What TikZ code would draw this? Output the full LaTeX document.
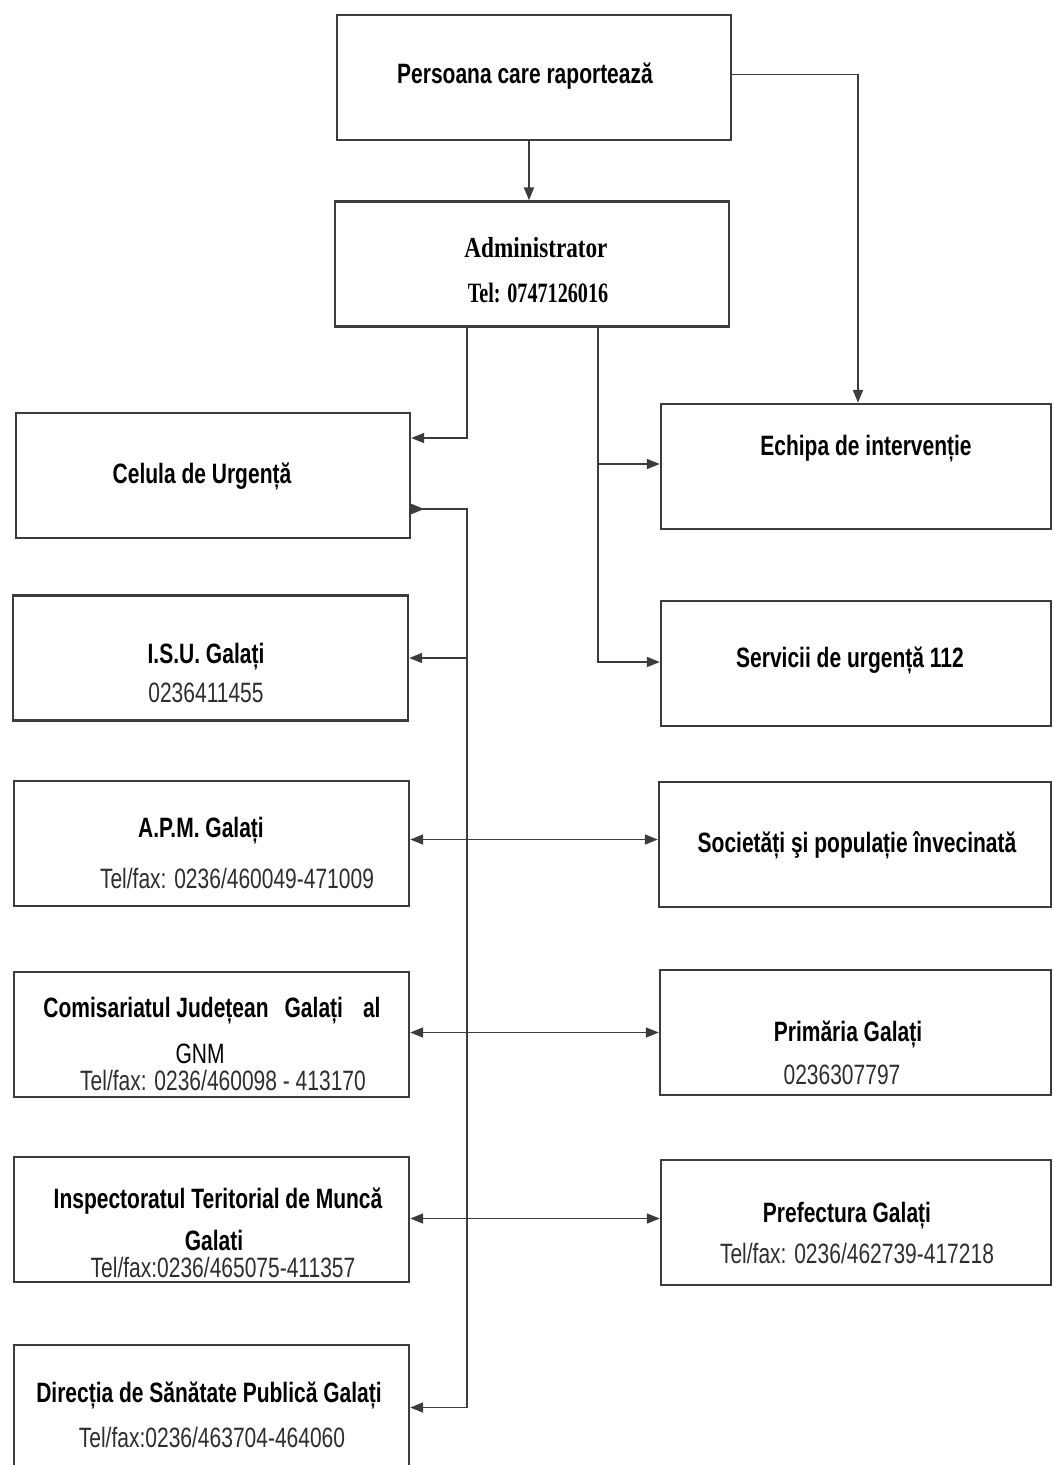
\documentclass[tikz,border=0pt]{standalone}
\usepackage{fontspec}
\usetikzlibrary{arrows.meta,positioning}
\newfontfamily\narrowsf{Liberation Sans}[FakeStretch=0.75]
\newfontfamily\narrowrm{Liberation Serif}[FakeStretch=0.8]
\newfontfamily\narrowrmtel{Liberation Serif}[FakeStretch=0.72]
\definecolor{linegray}{HTML}{3C3C3C}
\definecolor{numgray}{HTML}{2E2E2E}
\tikzset{
	box/.style={draw=linegray,line width=2.4pt,rectangle,minimum width=394pt,minimum height=125pt,inner sep=0pt},
	title/.style={anchor=base,inner sep=0pt,font=\narrowsf\bfseries\fontsize{28}{30}\selectfont},
	phone/.style={anchor=base,inner sep=0pt,text=numgray,font=\narrowsf\fontsize{28}{30}\selectfont},
	admintxt/.style={anchor=base,inner sep=0pt,font=\narrowrm\bfseries\fontsize{29}{31}\selectfont},
	wire/.style={draw=linegray,line width=1.8pt},
	arr/.style={wire,-{Triangle[length=13pt,width=10pt]}},
	dbl/.style={wire,{Triangle[length=13pt,width=10pt]}-{Triangle[length=13pt,width=10pt]}},
	rarr/.style={wire,{Triangle[length=13pt,width=10pt,reversed]}-{Triangle[length=13pt,width=10pt]}}
}
\begin{document}
\begin{tikzpicture}[x=1pt,y=-1pt]
			\path[use as bounding box,clip] (0,0) rectangle (1053,1465);
			\fill[white] (0,0) rectangle (1053,1465);
			% boxes
			\node[box] (pers) at (534,77.5) {};
			\node[box] (admin) at (532,264) {};
			\node[box] (celula) at (213,475.5) {};
			\node[box,minimum width=390pt] (echipa) at (856,466.5) {};
			\node[box,minimum width=395pt] (isu) at (210.5,658) {};
			\node[box,minimum width=390pt] (servicii) at (856,663.5) {};
			\node[box,minimum width=395pt] (apm) at (211.5,843.5) {};
			\node[box,minimum width=392pt] (soc) at (855,844.5) {};
			\node[box,minimum width=395pt] (comis) at (211.5,1034.5) {};
			\node[box,minimum width=391pt] (prim) at (855.5,1032.5) {};
			\node[box,minimum width=395pt] (insp) at (211.5,1219.5) {};
			\node[box,minimum width=390pt] (pref) at (856,1222.5) {};
			\node[box,minimum width=395pt] (dir) at (211.5,1407.5) {};
			% texts
			\node[title] (pers-t) at (525,83) {Persoana care raportează};
			\node[admintxt] (admin-t) at (536,257) {Administrator};
			\node[admintxt,font=\narrowrmtel\bfseries\fontsize{28}{30}\selectfont] (admin-n) at (538,302) {Tel: 0747126016};
			\node[title] (celula-t) at (202,483) {Celula de Urgență};
			\node[title] (echipa-t) at (866,455) {Echipa de intervenție};
			\node[title] (isu-t) at (206,663) {I.S.U. Galați};
			\node[phone] (isu-n) at (206,702) {0236411455};
			\node[title] (servicii-t) at (850,667) {Servicii de urgență 112};
			\node[title] (apm-t) at (201,837) {A.P.M. Galați};
			\node[phone] (apm-n) at (237,888) {Tel/fax: 0236/460049-471009};
			\node[title] (soc-t) at (857,852) {Societăți şi populație învecinată};
			\node[title] (comis-t) at (212,1017) {Comisariatul Județean\hspace{16pt}Galați\hspace{20pt}al};
			\node[title,font=\narrowsf\fontsize{28}{30}\selectfont] (comis-g) at (200,1063) {GNM};
			\node[phone] (comis-n) at (223,1090) {Tel/fax: 0236/460098 - 413170};
			\node[title] (prim-t) at (848,1041) {Primăria Galați};
			\node[phone] (prim-n) at (842,1084) {0236307797};
			\node[title] (insp-t) at (218,1208) {Inspectoratul Teritorial de Muncă};
			\node[title] (insp-g) at (214,1250) {Galati};
			\node[phone] (insp-n) at (223,1277) {Tel/fax:0236/465075-411357};
			\node[title] (pref-t) at (847,1222) {Prefectura Galați};
			\node[phone] (pref-n) at (857,1263) {Tel/fax: 0236/462739-417218};
			\node[title] (dir-t) at (209,1402) {Direcția de Sănătate Publică Galați};
			\node[phone] (dir-n) at (212,1447) {Tel/fax:0236/463704-464060};
			% junctions
			\coordinate (trunkL) at (467,0);
			\coordinate (trunkR) at (598,0);
			\coordinate (bendE) at (858,0);
			\coordinate (apmE) at ([yshift=4pt]apm.east);
			% connectors
			\draw[arr] (pers.south -| 529,0) -- (admin.north -| 529,0);
			\draw[arr] ([yshift=3pt]pers.east) -| (bendE |- echipa.north);
			\draw[arr] (admin.south -| trunkL) |- ([yshift=37.5pt]celula.east);
			\draw[arr] (admin.south -| trunkR) |- ([yshift=2.5pt]echipa.west);
			\draw[arr] (admin.south -| trunkR) |- ([yshift=1.5pt]servicii.west);
			\draw[rarr] ([yshift=-33.5pt]celula.east) -| (trunkL |- dir.east) -- (dir.east);
			\draw[arr] (trunkL |- isu.east) -- (isu.east);
			\draw[dbl] (apmE) -- (apmE -| soc.west);
			\draw[dbl] (comis.east |- prim.west) -- (prim.west);
			\draw[dbl] ([yshift=1pt]insp.east) -- ([yshift=1pt]insp.east -| pref.west);
		\end{tikzpicture}
\end{document}
